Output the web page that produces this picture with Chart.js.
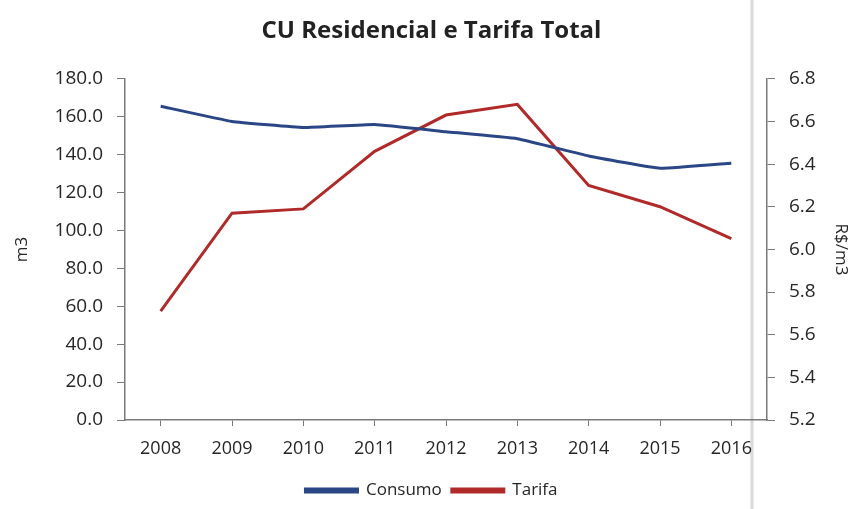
<!DOCTYPE html>
<html>
<head>
<meta charset="utf-8">
<script src="https://cdn.jsdelivr.net/npm/chart.js@4/dist/chart.umd.min.js"></script>
<style>
  html, body { margin: 0; padding: 0; background: #fff; }
  #wrap { width: 857px; height: 509px; }
</style>
</head>
<body>
<div id="wrap"><canvas id="chart" width="857" height="509"></canvas></div>
<script>
const anos = ["2008", "2009", "2010", "2011", "2012", "2013", "2014", "2015", "2016"];
const consumo = [165.5, 157.5, 154.3, 155.9, 152.1, 148.4, 139.3, 132.8, 135.5];
const tarifa = [5.71, 6.17, 6.19, 6.46, 6.63, 6.68, 6.30, 6.20, 6.05];

const txt = "#262626";
const eixo = "#7a7a7a";
const fonte = "'Open Sans', 'DejaVu Sans', sans-serif";

// white background plus the faint page edge line on the right
const bordaPagina = {
  id: "bordaPagina",
  beforeDraw(chart) {
    const ctx = chart.ctx;
    ctx.save();
    ctx.fillStyle = "#fff";
    ctx.fillRect(0, 0, chart.width, chart.height);
    ctx.strokeStyle = "rgba(200,200,200,0.7)";
    ctx.lineWidth = 3;
    ctx.beginPath();
    ctx.moveTo(752, 0);
    ctx.lineTo(752, chart.height);
    ctx.stroke();
    ctx.restore();
  }
};

new Chart(document.getElementById("chart"), {
  type: "line",
  data: {
    labels: anos,
    datasets: [
      {
        label: "Consumo",
        data: consumo,
        yAxisID: "y",
        borderColor: "#2b4685",
        backgroundColor: "#2b4685",
        borderWidth: 3,
        pointRadius: 0,
        tension: 0.1,
        fill: false,
      },
      {
        label: "Tarifa",
        data: tarifa,
        yAxisID: "y1",
        borderColor: "#b02a2a",
        backgroundColor: "#b02a2a",
        borderWidth: 3,
        pointRadius: 0,
        tension: 0,
        fill: false,
      },
    ],
  },
  options: {
    responsive: false,
    animation: false,
    layout: { padding: { top: 0, left: 12, right: 6, bottom: 0 } },
    plugins: {
      title: {
        display: true,
        text: "CU Residencial e Tarifa Total",
        color: "#222",
        font: { family: fonte, size: 24, weight: "bold" },
        padding: { top: 17, bottom: 33 },
      },
      legend: {
        position: "bottom",
        labels: {
          color: txt,
          font: { family: fonte, size: 17 },
          boxWidth: 52,
          boxHeight: 3,
          padding: 10,
        },
      },
      tooltip: { enabled: false },
    },
    scales: {
      x: {
        offset: true,
        afterFit(scale) { scale.height = 52; },
        grid: { drawOnChartArea: false, drawTicks: true, tickLength: 6, color: eixo },
        border: { color: eixo, width: 1.5 },
        ticks: { color: txt, font: { family: fonte, size: 18 }, padding: 12 },
      },
      y: {
        position: "left",
        min: 0,
        max: 180,
        afterFit(scale) { scale.width = 113; },
        grid: { drawOnChartArea: false, drawTicks: true, tickLength: 8, color: eixo },
        border: { color: eixo, width: 1.5 },
        ticks: {
          stepSize: 20,
          color: txt,
          font: { family: fonte, size: 19 },
          padding: 14,
          callback: (v) => v.toFixed(1),
        },
        title: {
          display: true,
          text: "m3",
          color: txt,
          font: { family: fonte, size: 17 },
          padding: { top: 0, bottom: 0 },
        },
      },
      y1: {
        position: "right",
        min: 5.2,
        max: 6.8,
        afterFit(scale) { scale.width = 84; },
        grid: { drawOnChartArea: false, drawTicks: true, tickLength: 8, color: eixo },
        border: { color: eixo, width: 1.5 },
        ticks: {
          stepSize: 0.2,
          color: txt,
          font: { family: fonte, size: 19 },
          padding: 14,
          callback: (v) => v.toFixed(1),
        },
        title: {
          display: true,
          text: "R$/m3",
          color: txt,
          font: { family: fonte, size: 17 },
          padding: { top: 0, bottom: 0 },
        },
      },
    },
  },
  plugins: [bordaPagina],
});
</script>
</body>
</html>
